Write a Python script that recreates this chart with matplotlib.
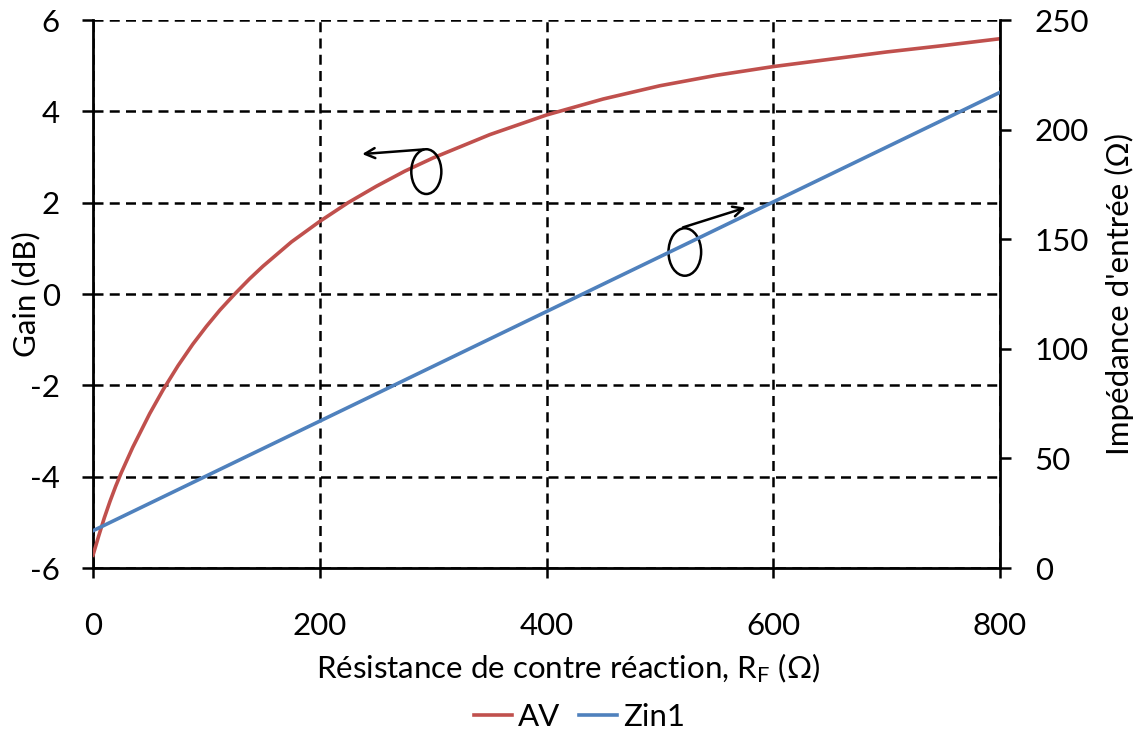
import numpy as np
import matplotlib
matplotlib.use('Agg')
import matplotlib.pyplot as plt
from matplotlib.patches import Ellipse

plt.rcParams['font.family'] = ['Lato', 'DejaVu Sans']
plt.rcParams['mathtext.fontset'] = 'custom'
plt.rcParams['mathtext.rm'] = 'Lato'
plt.rcParams['mathtext.it'] = 'Lato'

# Gain AV (dB) vs feedback resistance RF (ohm)
rf_av = [0, 5, 10, 15, 20, 25, 35, 50, 62, 75, 88, 100, 112, 125, 138, 150,
         175, 200, 225, 250, 275, 300, 350, 400, 450, 500, 550, 600, 650, 700,
         750, 800]
av_db = [-5.72, -5.30, -4.90, -4.54, -4.21, -3.91, -3.36, -2.62, -2.09, -1.57,
         -1.10, -0.71, -0.35, 0.00, 0.33, 0.61, 1.14, 1.59, 2.00, 2.36, 2.69,
         2.98, 3.49, 3.92, 4.27, 4.56, 4.79, 4.98, 5.14, 5.30, 5.44, 5.59]

# Input impedance Zin1 (ohm)
rf_zin = [0, 100, 200, 300, 400, 500, 600, 700, 800]
zin1 = [17, 42, 67, 92, 117, 142, 167, 192, 217]

red = '#C0504D'
blue = '#4F81BD'
fs = 22.5

fig = plt.figure(figsize=(11.41, 7.33), dpi=100)
ax = fig.add_axes([93/1141, 1 - 568/733, 907/1141, 548/733])
ax2 = ax.twinx()

l1, = ax.plot(rf_av, av_db, color=red, lw=2.6, label='AV', zorder=3)
l2, = ax2.plot(rf_zin, zin1, color=blue, lw=2.6, label='Zin1', zorder=3)

ax.set_xlim(0, 800)
ax.set_ylim(-6, 6)
ax2.set_ylim(0, 250)
ax.set_xticks(np.arange(0, 801, 200))
ax.set_yticks(np.arange(-6, 7, 2))
ax2.set_yticks(np.arange(0, 251, 50))

ax.grid(True, color='black', linestyle=(0, (4, 2.5)), linewidth=1.8)
ax.set_axisbelow(True)

for a in (ax, ax2):
    a.spines['top'].set_visible(False)
    for s in ('left', 'bottom', 'right'):
        a.spines[s].set_linewidth(2.0)
        a.spines[s].set_color('black')
ax.spines['right'].set_visible(False)
ax2.spines['left'].set_visible(False)
ax2.spines['bottom'].set_visible(False)

ax.tick_params(axis='y', direction='out', length=8, width=1.8, pad=16, labelsize=fs)
ax.tick_params(axis='x', direction='out', length=7, width=1.8, pad=25, labelsize=fs)
ax2.tick_params(axis='y', direction='out', length=8, width=1.8, pad=17, labelsize=fs)
ax.set_yticklabels([str(v) for v in range(-6, 7, 2)])

ax.set_xlabel(r'Résistance de contre réaction, R$_\mathrm{F}$ (Ω)', fontsize=fs, va='center')
ax.xaxis.set_label_coords(0.524, -0.182)
ax.set_ylabel('Gain (dB)', fontsize=fs, va='center')
ax.yaxis.set_label_coords(-0.074, 0.5)
ax2.set_ylabel("Impédance d'entrée (Ω)", fontsize=fs, va='center', rotation=90)
ax2.yaxis.set_label_coords(1.132, 0.5)

# curve markers (ellipse + arrow pointing to the relevant axis)
ax.add_patch(Ellipse((294, 2.68), 26.5, 0.98, fill=False, ec='black', lw=1.8, zorder=4))
ax.annotate('', xy=(235, 3.06), xytext=(294, 3.17),
            arrowprops=dict(arrowstyle='->', color='black', lw=1.8, mutation_scale=18), zorder=4)
ax.add_patch(Ellipse((522, 0.92), 28.8, 1.04, fill=False, ec='black', lw=1.8, zorder=4))
ax.annotate('', xy=(578, 1.91), xytext=(518, 1.44),
            arrowprops=dict(arrowstyle='->', color='black', lw=1.8, mutation_scale=18), zorder=4)

fig.legend(handles=[l1, l2], loc='center', bbox_to_anchor=(0.508, 1 - 717/733),
           ncol=2, frameon=False, fontsize=fs, handlelength=1.2, handletextpad=0.2,
           columnspacing=0.6)

fig.savefig('out.png', dpi=100)
